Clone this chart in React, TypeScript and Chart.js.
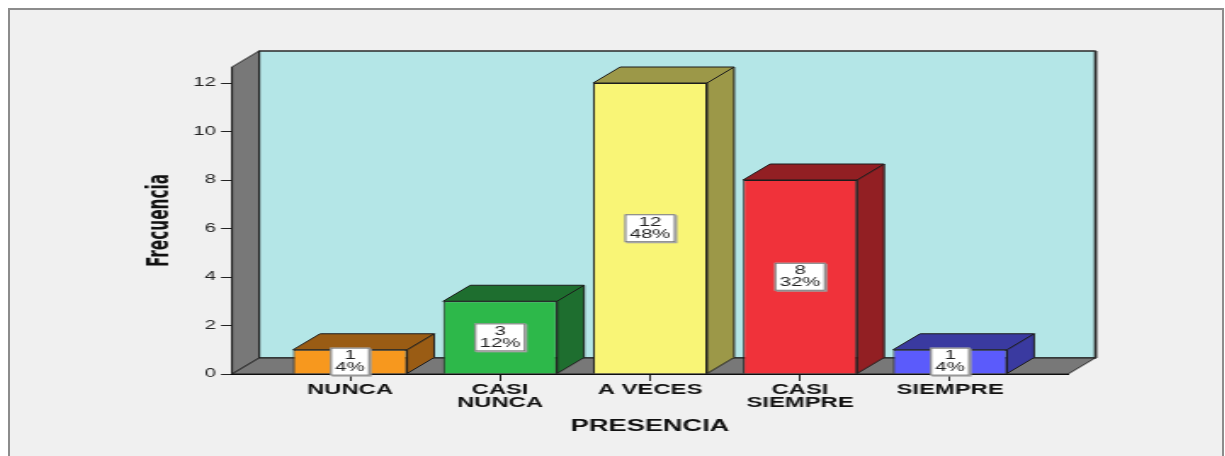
import React, { useEffect, useRef } from 'react';
import { Chart, registerables } from 'chart.js';

Chart.register(...registerables);

// ---------- data ----------
const categories = ['NUNCA', 'CASI NUNCA', 'A VECES', 'CASI SIEMPRE', 'SIEMPRE'];
const tickLabels = [['NUNCA'], ['CASI', 'NUNCA'], ['A VECES'], ['CASI', 'SIEMPRE'], ['SIEMPRE']];
const frequencies = [1, 3, 12, 8, 1];
const percents = ['4%', '12%', '48%', '32%', '4%'];
const yTicks = [0, 2, 4, 6, 8, 10, 12];
const frontColors = ['#f7981e', '#2db84a', '#f9f576', '#f0323a', '#5b5bfb'];
const sideColors = ['#9a5c14', '#1e6e2f', '#9c9848', '#921f23', '#3a3aa0'];
const yAxisTitle = 'Frecuencia';
const xAxisTitle = 'PRESENCIA';

// ---------- layout constants ----------
const STRETCH = 1.7;
const CANVAS_W = 713;
const CANVAS_H = 446;
const DEPTH_X = 15.9;
const DEPTH_Y = 16;
const Y_MAX = 12.66;
const X_MIN = -0.787;
const X_MAX = 4.787;
const WALL = '#b4e6e7';
const GRAY = '#787878';
const EDGE = '#1c1c1c';

function poly(ctx: CanvasRenderingContext2D, pts: number[][], fill: string, stroke: string, lw = 1) {
  ctx.beginPath();
  ctx.moveTo(pts[0][0], pts[0][1]);
  for (let i = 1; i < pts.length; i++) ctx.lineTo(pts[i][0], pts[i][1]);
  ctx.closePath();
  ctx.fillStyle = fill;
  ctx.fill();
  ctx.strokeStyle = stroke;
  ctx.lineWidth = lw;
  ctx.stroke();
}

const threeD = {
  id: 'threeD',
  beforeDatasetsDraw(chart: any) {
    const { ctx, chartArea: ca } = chart;
    const dx = DEPTH_X;
    const dy = DEPTH_Y;
    ctx.save();
    ctx.lineJoin = 'round';
    // back wall
    poly(ctx, [[ca.left + dx, ca.top - dy], [ca.right + dx, ca.top - dy], [ca.right + dx, ca.bottom - dy], [ca.left + dx, ca.bottom - dy]], WALL, '#2a2a2a', 1.3);
    ctx.beginPath();
    ctx.moveTo(ca.right + dx + 0.5, ca.top - dy);
    ctx.lineTo(ca.right + dx + 0.5, ca.bottom - dy);
    ctx.strokeStyle = '#333';
    ctx.lineWidth = 1.4;
    ctx.stroke();
    // left wall
    poly(ctx, [[ca.left, ca.top], [ca.left + dx, ca.top - dy], [ca.left + dx, ca.bottom - dy], [ca.left, ca.bottom]], GRAY, EDGE, 1);
    // floor
    poly(ctx, [[ca.left, ca.bottom], [ca.left + dx, ca.bottom - dy], [ca.right + dx, ca.bottom - dy], [ca.right, ca.bottom]], GRAY, EDGE, 1);

    // bar top and side faces
    const meta = chart.getDatasetMeta(0);
    meta.data.forEach((bar: any, i: number) => {
      const { x, y, base, width } = bar.getProps(['x', 'y', 'base', 'width'], true);
      const x0 = x - width / 2;
      const x1 = x + width / 2;
      poly(ctx, [[x1, y], [x1 + dx, y - dy], [x1 + dx, base - dy], [x1, base]], sideColors[i], EDGE, 1);
      poly(ctx, [[x0, y], [x0 + dx, y - dy], [x1 + dx, y - dy], [x1, y]], sideColors[i], EDGE, 1);
    });
    ctx.restore();
  },
  afterDatasetsDraw(chart: any) {
    const { ctx } = chart;
    const meta = chart.getDatasetMeta(0);
    ctx.save();
    ctx.font = '12px "Liberation Sans", Arial, sans-serif';
    meta.data.forEach((bar: any, i: number) => {
      const { x, y, base } = bar.getProps(['x', 'y', 'base'], true);
      const lines = [String(frequencies[i]), percents[i]];
      const w = Math.max(...lines.map((l) => ctx.measureText(l).width)) + 6;
      const h = 28;
      const cy = (y + base) / 2;
      const left = x - w / 2;
      const top = cy - h / 2;
      ctx.fillStyle = '#a0a0a0';
      ctx.fillRect(left + 1, top + 1, w, h);
      ctx.fillStyle = '#ffffff';
      ctx.fillRect(left, top, w, h);
      ctx.strokeStyle = '#707070';
      ctx.lineWidth = 1;
      ctx.strokeRect(left + 0.5, top + 0.5, w - 1, h - 1);
      ctx.fillStyle = '#222';
      ctx.textAlign = 'center';
      ctx.textBaseline = 'middle';
      ctx.fillText(lines[0], x, cy - 6);
      ctx.fillText(lines[1], x, cy + 6);
    });
    ctx.restore();
  },
};

export default function App() {
  const ref = useRef<HTMLCanvasElement>(null);

  useEffect(() => {
    if (!ref.current) return;
    const chart = new Chart(ref.current, {
      type: 'bar',
      data: {
        datasets: [
          {
            data: frequencies.map((v, i) => ({ x: i, y: v })),
            backgroundColor: frontColors,
            borderColor: EDGE,
            borderWidth: 1,
            barPercentage: 0.76,
            categoryPercentage: 1,
          } as any,
        ],
      },
      options: {
        responsive: false,
        animation: false,
        events: [],
        layout: { padding: { left: 80, right: CANVAS_W - 622.4, top: 57, bottom: 21 } },
        plugins: { legend: { display: false }, tooltip: { enabled: false } },
        scales: {
          x: {
            type: 'linear',
            min: X_MIN,
            max: X_MAX,
            offset: false,
            afterBuildTicks: (s: any) => {
              s.ticks = categories.map((_, i) => ({ value: i }));
            },
            afterFit: (s: any) => {
              s.height = 61;
            },
            ticks: {
              autoSkip: false,
              maxRotation: 0,
              padding: 3,
              color: '#111',
              font: { family: '"Liberation Sans", Arial, sans-serif', weight: 'bold', size: 14, lineHeight: 0.9 },
              callback: (v: any) => tickLabels[v] as any,
            },
            grid: { offset: false, drawOnChartArea: false, tickLength: 7, color: '#222' },
            border: { display: true, color: '#000', width: 1 },
            title: {
              display: true,
              text: xAxisTitle,
              color: '#111',
              padding: 0,
              font: { family: '"Liberation Sans", Arial, sans-serif', weight: 'bold', size: 16, lineHeight: 1 },
            },
          },
          y: {
            min: 0,
            max: Y_MAX,
            afterBuildTicks: (s: any) => {
              s.ticks = yTicks.map((v) => ({ value: v }));
            },
            afterFit: (s: any) => {
              s.width = 130.6 - 80;
            },
            ticks: { padding: 3, color: '#222', font: { family: '"Liberation Sans", Arial, sans-serif', size: 12 } },
            grid: { drawOnChartArea: false, tickLength: 6.5, color: '#222' },
            border: { display: true, color: '#000', width: 1 },
            title: {
              display: true,
              text: yAxisTitle,
              color: '#111',
              padding: 0,
              font: {
                family: '"Liberation Sans Narrow", "DejaVu Sans Condensed", "Arial Narrow", sans-serif',
                weight: 'bold',
                size: 17,
                lineHeight: 1,
              },
            },
          },
        },
      } as any,
      plugins: [threeD as any],
    });
    return () => chart.destroy();
  }, []);

  return (
    <div
      style={{
        position: 'fixed',
        left: 8,
        top: 8,
        width: 1216,
        height: 460,
        boxSizing: 'border-box',
        border: '2px solid #8c8c8c',
        background: '#f0f0f0',
        overflow: 'hidden',
      }}
    >
      <canvas
        ref={ref}
        width={CANVAS_W}
        height={CANVAS_H}
        style={{ display: 'block', transform: `scaleX(${STRETCH})`, transformOrigin: '0 0' }}
      />
    </div>
  );
}
